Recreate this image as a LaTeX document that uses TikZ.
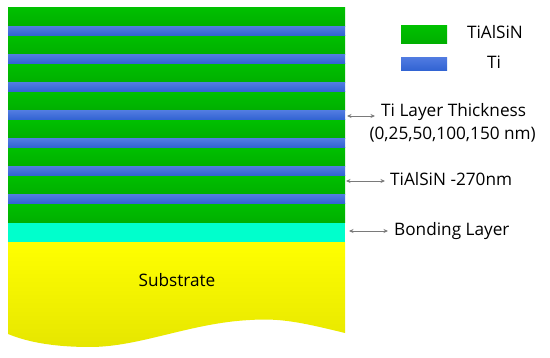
\documentclass[tikz,border=0pt]{standalone}
\usepackage{fontspec}
\setmainfont{Open Sans}
\usetikzlibrary{arrows.meta, positioning, calc}
\definecolor{cgreen}{HTML}{00C000}
\definecolor{cgreendk}{HTML}{00AE00}
\definecolor{cblue}{HTML}{3062D2}
\definecolor{cbluelt}{HTML}{4F7AE0}
\definecolor{ccyan}{HTML}{00FFCC}
\definecolor{cyellow}{HTML}{FFFF00}
\definecolor{cyellowdk}{HTML}{E6E600}
\definecolor{cgrey}{HTML}{7A7A7A}
\tikzset{
  every picture/.style={x=1pt, y=-1pt, font=\fontsize{17.2}{20}\selectfont},
  layer/.style={anchor=north west, inner sep=0pt, outer sep=0pt, minimum width=337pt},
  tialsin/.style={layer, minimum height=19pt, top color=cgreen, bottom color=cgreendk},
  tilayer/.style={layer, minimum height=9pt, top color=cbluelt, bottom color=cblue},
  bonding/.style={layer, minimum height=19pt, fill=ccyan},
  swatch/.style={inner sep=0pt, minimum width=46pt},
  dimarrow/.style={{Stealth[length=4.5pt, width=4pt]}-{Stealth[length=4.5pt, width=4pt]}, draw=cgrey, line width=0.9pt},
  label/.style={anchor=base west, inner sep=0pt},
}

\begin{document}
\begin{tikzpicture}
  \useasboundingbox (0,0) rectangle (550,358);
  % substrate with wavy bottom
  \shade[top color=cyellow, bottom color=cyellowdk] (8,242) -- (345,242) -- (345,333)
    .. controls (300,322) and (280,318) .. (250,320)
    .. controls (190,323) and (140,347) .. (90,347)
    .. controls (50,347) and (25,341) .. (8,334) -- cycle;
  \node[anchor=base, inner sep=0pt] (sub) at (177,287) {Substrate};
  % multilayer stack
  \foreach \i in {0,...,7}
    \node[tialsin] (g\i) at (8,8+28*\i) {};
  \foreach \i in {0,...,6}
    \node[tilayer] (b\i) at (8,27+28*\i) {};
  \node[bonding] (bond) at (8,223) {};
  % legend
  \node[swatch, minimum height=18pt, top color=cgreen, bottom color=cgreendk] (lgreen) at (424,35) {};
  \node[swatch, minimum height=13pt, top color=cbluelt, bottom color=cblue] (lblue) at (424,64.5) {};
  \node[anchor=base, inner sep=0pt] (lgtxt) at (495,39) {TiAlSiN};
  \node[anchor=base, inner sep=0pt] (lbtxt) at (494,69) {Ti};
  % annotations
  \node[label] (tithick) at (381,117) {Ti Layer Thickness};
  \node[anchor=base, inner sep=0pt] (tirange) at ($(tithick.base)+(-1,23)$) {(0,25,50,100,150 nm)};
  \node[label] (gthick) at (390,186) {TiAlSiN -270nm};
  \node[label] (bondtxt) at (394,236) {Bonding Layer};
  \coordinate (a1) at (347,116);
  \coordinate (a2) at (346,181);
  \coordinate (a3) at (349,231);
  \draw[dimarrow] (a1) -- ($(tithick.west |- a1)+(-6,0)$);
  \draw[dimarrow] (a2) -- ($(gthick.west |- a2)+(-5,0)$);
  \draw[dimarrow] (a3) -- ($(bondtxt.west |- a3)+(-6,0)$);
\end{tikzpicture}
\end{document}
